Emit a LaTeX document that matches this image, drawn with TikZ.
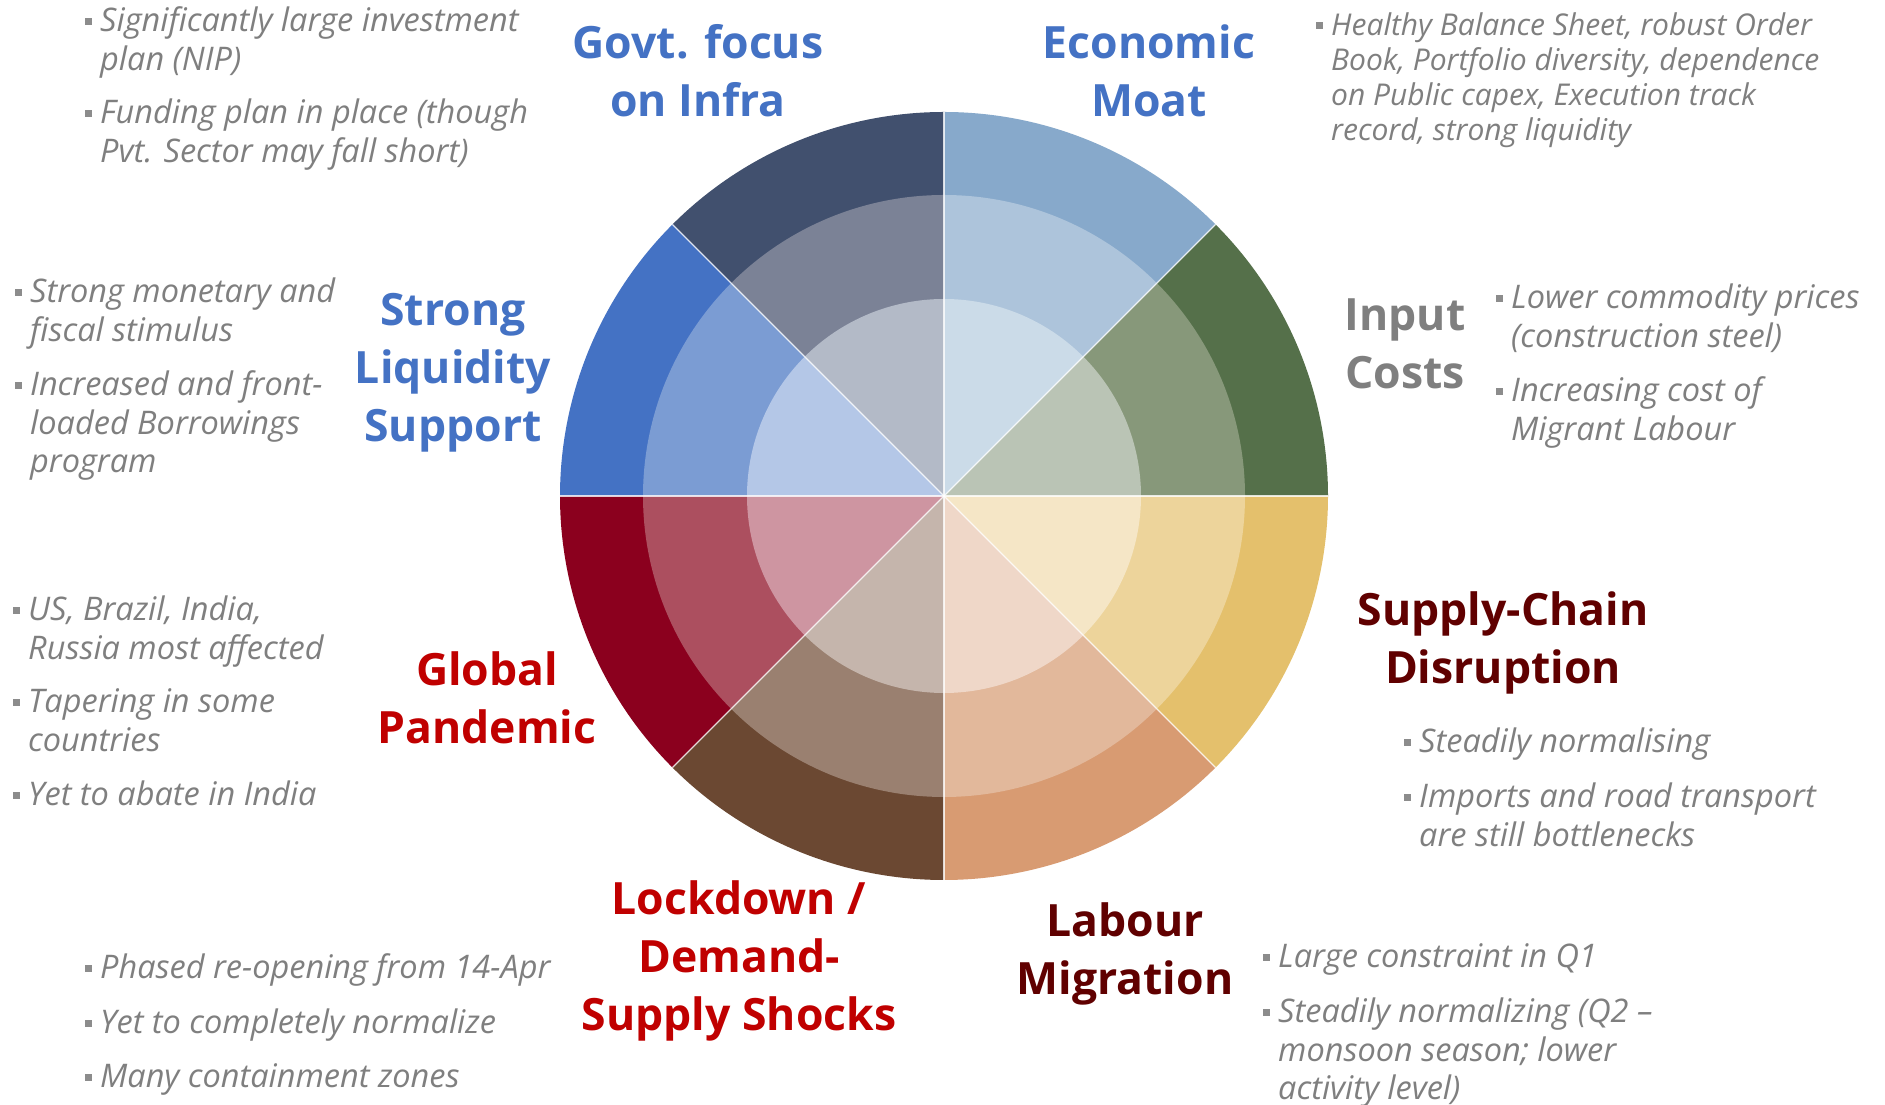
\documentclass[tikz,border=0pt]{standalone}
\usepackage{fontspec}
\setmainfont{Open Sans}
\definecolor{hblue}{HTML}{4472C4}
\definecolor{hgray}{HTML}{7F7F7F}
\definecolor{hmaroon}{HTML}{600000}
\definecolor{hred}{HTML}{C00000}
\definecolor{txtgray}{HTML}{7F7F7F}
\definecolor{bulc}{HTML}{8C8C8C}
% sector colours: outer / middle / inner
\definecolor{gA}{HTML}{55704A}\definecolor{gB}{HTML}{87987A}\definecolor{gC}{HTML}{BAC4B5}
\definecolor{lA}{HTML}{87A9CB}\definecolor{lB}{HTML}{ADC4DB}\definecolor{lC}{HTML}{CBDBE8}
\definecolor{nA}{HTML}{41506E}\definecolor{nB}{HTML}{7B8296}\definecolor{nC}{HTML}{B3BAC7}
\definecolor{bA}{HTML}{4472C4}\definecolor{bB}{HTML}{7B9CD3}\definecolor{bC}{HTML}{B4C7E7}
\definecolor{rA}{HTML}{8B001E}\definecolor{rB}{HTML}{AC4F5F}\definecolor{rC}{HTML}{CE95A1}
\definecolor{kA}{HTML}{6B4832}\definecolor{kB}{HTML}{9A8070}\definecolor{kC}{HTML}{C5B5AC}
\definecolor{oA}{HTML}{D89B72}\definecolor{oB}{HTML}{E2B89B}\definecolor{oC}{HTML}{EFD7C8}
\definecolor{yA}{HTML}{E4C06C}\definecolor{yB}{HTML}{EDD49B}\definecolor{yC}{HTML}{F5E6C6}
\newcommand\bsq{\makebox[0pt][r]{\textcolor{bulc}{\rule[7pt]{7pt}{7pt}}\hspace{8pt}}}
\begin{document}
\begin{tikzpicture}[x=1pt,y=1pt,
  head/.style={font=\bfseries\fontsize{44.5}{58}\selectfont, align=center, anchor=base, inner sep=0pt},
  bullet/.style={font=\itshape\fontsize{32.5}{38.5}\selectfont, text=txtgray, align=left, anchor=base west, inner sep=0pt},
  smallbullet/.style={bullet, font=\itshape\fontsize{30}{35}\selectfont},
]
\useasboundingbox (0,0) rectangle (1885,1105);
\fill[white] (0,0) rectangle (1885,1105);

\begin{scope}[shift={(944,609)}]
  \foreach \a/\co/\cm/\ci in {0/gA/gB/gC, 45/lA/lB/lC, 90/nA/nB/nC, 135/bA/bB/bC,
                             180/rA/rB/rC, 225/kA/kB/kC, 270/oA/oB/oC, 315/yA/yB/yC}{
    \fill[\co] (\a:384) arc[start angle=\a, delta angle=45, radius=384]
      -- ({\a+45}:300) arc[start angle=\a+45, delta angle=-45, radius=300] -- cycle;
    \fill[\cm] (\a:301) arc[start angle=\a, delta angle=45, radius=301]
      -- ({\a+45}:196) arc[start angle=\a+45, delta angle=-45, radius=196] -- cycle;
    \fill[\ci] (0,0) -- (\a:197) arc[start angle=\a, delta angle=45, radius=197] -- cycle;
  }
  \foreach \a in {0,45,...,315}
    \draw[white, line width=1.2pt, opacity=0.8] (0,0) -- (\a:384);
\end{scope}

% headings (anchored at the baseline of their last line)
\node[head, text=hblue] (govt) at (698,988) {Govt. focus\\on Infra};
\node[head, text=hblue] (moat) at (1149,988) {Economic\\Moat};
\node[head, text=hblue] (liq) at (453,663) {Strong\\Liquidity\\Support};
\node[head, text=hgray] (input) at (1405,716) {Input\\Costs};
\node[head, text=hmaroon] (supply) at (1503,421) {Supply-Chain\\Disruption};
\node[head, text=hred] (pandemic) at (487,361) {Global\\Pandemic};
\node[head, text=hred] (lockdown) at (739,74) {Lockdown /\\Demand-\\Supply Shocks};
\node[head, text=hmaroon] (labour) at (1125,110) {Labour\\Migration};

% bullets (anchored at the baseline of their last line)
\node[bullet] (tl1) at (100,1034.5) {\bsq Significantly large investment\\plan (NIP)};
\node[bullet] (tl2) at (100,942.5) {\bsq Funding plan in place (though\\Pvt. Sector may fall short)};

\node[smallbullet] (tr1) at (1331,964) {\bsq Healthy Balance Sheet, robust Order\\Book, Portfolio diversity, dependence\\on Public capex, Execution track\\record, strong liquidity};

\node[bullet] (lq1) at (30,763.5) {\bsq Strong monetary and\\fiscal stimulus};
\node[bullet] (lq2) at (30,632) {\bsq Increased and front-\\loaded Borrowings\\program};

\node[bullet] (ic1) at (1511,757.5) {\bsq Lower commodity prices\\(construction steel)};
\node[bullet] (ic2) at (1511,664.5) {\bsq Increasing cost of\\Migrant Labour};

\node[bullet] (gp1) at (28,445.5) {\bsq US, Brazil, India,\\Russia most affected};
\node[bullet] (gp2) at (28,353.5) {\bsq Tapering in some\\countries};
\node[bullet] (gp3) at (28,299) {\bsq Yet to abate in India};

\node[bullet] (sc1) at (1419,352) {\bsq Steadily normalising};
\node[bullet] (sc2) at (1419,258.5) {\bsq Imports and road transport\\are still bottlenecks};

\node[bullet] (ld1) at (100,126) {\bsq Phased re-opening from 14-Apr};
\node[bullet] (ld2) at (100,71) {\bsq Yet to completely normalize};
\node[bullet] (ld3) at (100,17) {\bsq Many containment zones};

\node[bullet] (lm1) at (1278,137) {\bsq Large constraint in Q1};
\node[bullet] (lm2) at (1278,5) {\bsq Steadily normalizing (Q2 –\\monsoon season; lower\\activity level)};
\end{tikzpicture}
\end{document}
